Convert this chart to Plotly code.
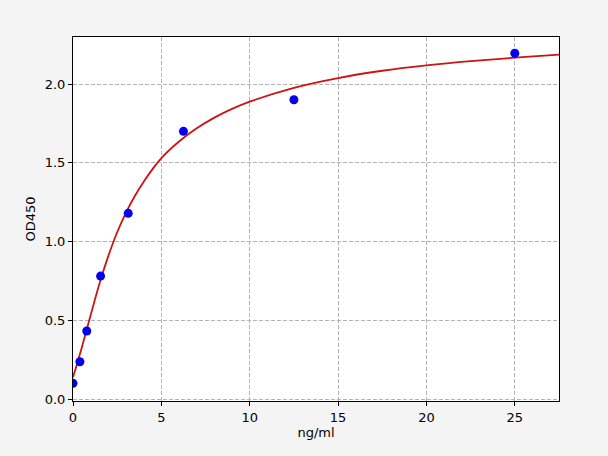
import plotly.graph_objects as go

# Standard points (concentration vs OD450)
conc = [0, 0.39, 0.78, 1.56, 3.125, 6.25, 12.5, 25]
od450 = [0.102, 0.239, 0.434, 0.782, 1.18, 1.70, 1.90, 2.195]

# Fitted curve
curve_x = [0, 0.5, 1.0, 1.5, 2.0, 2.5, 3.0, 3.5, 4.0, 4.5, 5.0, 6.0, 7.0,
           8.0, 9.0, 10, 12.5, 15, 17.5, 20, 22.5, 25, 27.5]
curve_y = [0.14, 0.33, 0.535, 0.735, 0.91, 1.06, 1.185, 1.29, 1.38, 1.46,
           1.53, 1.635, 1.719, 1.787, 1.842, 1.888, 1.976, 2.038, 2.084,
           2.118, 2.145, 2.167, 2.186]

x_ticks = [0, 5, 10, 15, 20, 25]
y_ticks = [0.0, 0.5, 1.0, 1.5, 2.0]
y_tick_labels = ["0.0", "0.5", "1.0", "1.5", "2.0"]

fig = go.Figure()
fig.add_trace(go.Scatter(x=curve_x, y=curve_y, mode="lines",
                         line=dict(color="#cc1414", width=1.8, shape="spline",
                                   smoothing=1.0),
                         showlegend=False))
fig.add_trace(go.Scatter(x=conc, y=od450, mode="markers",
                         marker=dict(color="#0000ee", size=9, line=dict(width=0)),
                         showlegend=False))

axis_common = dict(showline=True, linecolor="black", linewidth=1, mirror=True,
                   ticks="outside", ticklen=4, tickcolor="black",
                   showgrid=True, gridcolor="#b4b4b4", griddash="4px,2px", gridwidth=1,
                   zeroline=False, tickfont=dict(size=13, color="black"))

fig.update_xaxes(range=[0, 27.5], tickvals=x_ticks,
                 title=dict(text="ng/ml", font=dict(size=13, color="black"), standoff=4),
                 **axis_common)
fig.update_yaxes(range=[-0.01, 2.298], tickvals=y_ticks, ticktext=y_tick_labels,
                 title=dict(text="OD450", font=dict(size=13, color="black"), standoff=6),
                 **axis_common)

fig.update_layout(width=608, height=456,
                  margin=dict(l=73, r=49, t=37, b=55),
                  paper_bgcolor="#f4f4f4", plot_bgcolor="white",
                  font=dict(family="DejaVu Sans", color="black"))

# drop the browser's default page margin so the figure sits at (0, 0)
page_css = ("document.body.style.margin='0';"
            "document.body.style.background='#f4f4f4';")
fig.write_html("out.html", post_script=page_css,
               config={"displayModeBar": False})
